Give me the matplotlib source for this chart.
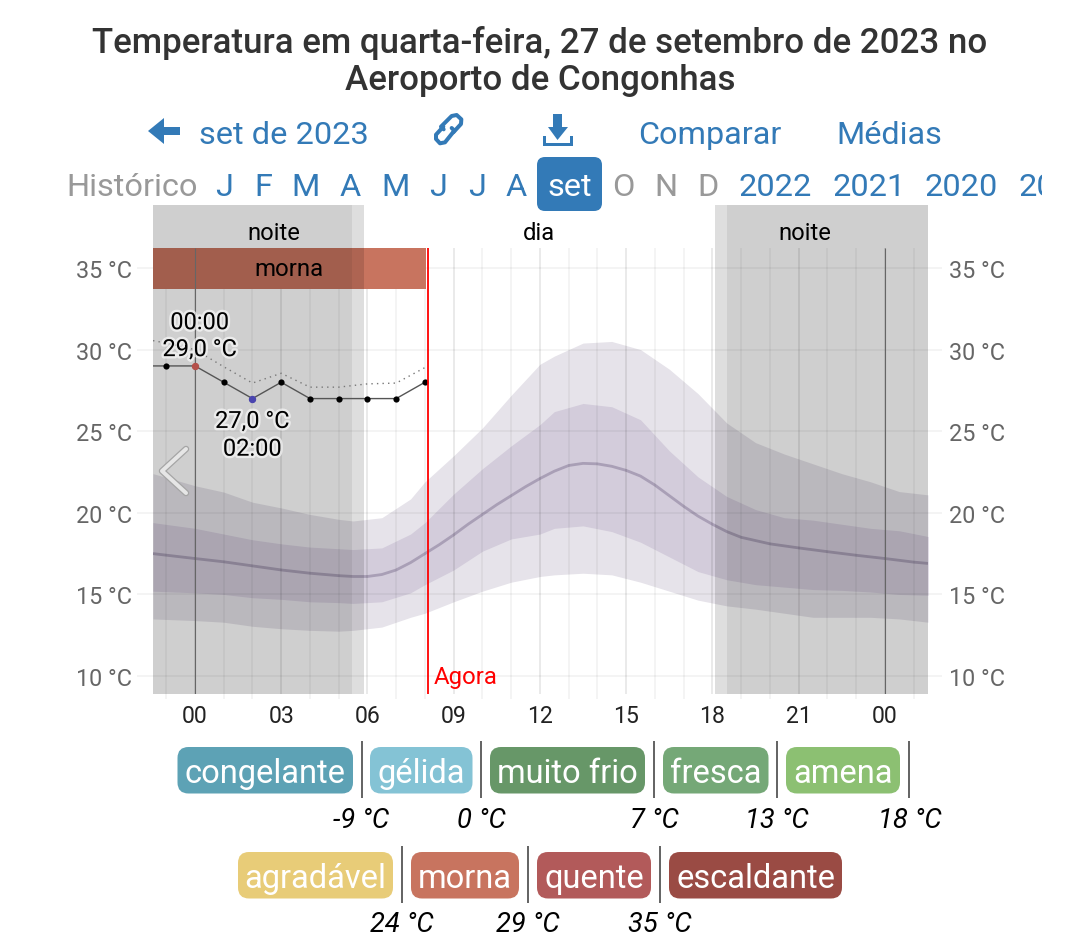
import matplotlib
matplotlib.use("Agg")
import matplotlib.pyplot as plt
import matplotlib.patheffects as pe
from matplotlib.patches import FancyBboxPatch, Polygon, Rectangle

plt.rcParams['font.family'] = ['Roboto', 'DejaVu Sans']

W, H = 1080, 953
PX = 72 / 100  # points per pixel at dpi=100

# ---- data ----
title_lines = "Temperatura em quarta-feira, 27 de setembro de 2023 no\nAeroporto de Congonhas"
band_hours = [-1.46, 0, 1, 2, 3, 4, 5, 5.5, 6.5, 7.5, 8, 9, 10, 11, 12, 12.5, 13.5, 14.5, 15.5,
              16.5, 17.5, 18.5, 19.5, 20.5, 21.5, 22.5, 23.5, 24.5, 25.5]
outer_hi = [22.4, 21.66, 21.27, 20.65, 20.3, 19.9, 19.6, 19.5, 19.7, 20.85, 21.9, 23.5, 25.2, 27.2, 29.1, 29.6,
            30.4, 30.5, 30.0, 28.8, 27.3, 25.5, 24.3, 23.6, 23.0, 22.4, 21.9, 21.3, 21.1]
inner_hi = [19.4, 19.05, 18.7, 18.35, 18.1, 17.9, 17.8, 17.75, 17.85, 18.7, 19.4, 21.15, 22.7, 24.1, 25.4, 26.2,
            26.7, 26.5, 25.7, 23.8, 22.2, 21.0, 20.2, 19.7, 19.55, 19.3, 19.05, 18.9, 18.55]
inner_lo = [15.2, 15.1, 15.0, 14.8, 14.7, 14.55, 14.5, 14.45, 14.55, 15.1, 15.6, 16.5, 17.65, 18.4, 18.7, 19.05,
            19.2, 18.85, 18.2, 17.3, 16.4, 15.9, 15.6, 15.45, 15.3, 15.25, 15.15, 15.0, 14.95]
outer_lo = [13.5, 13.4, 13.3, 13.05, 12.9, 12.8, 12.75, 12.8, 13.0, 13.6, 13.85, 14.55, 15.2, 15.75, 16.1, 16.2,
            16.3, 16.2, 15.75, 15.2, 14.65, 14.3, 14.1, 13.85, 13.6, 13.6, 13.6, 13.5, 13.3]

median_hours = [-1.46, 0, 1, 2, 3, 4, 5, 5.5, 6, 6.5, 7, 7.5, 8, 8.5, 9, 9.5, 10, 10.5, 11, 11.5, 12, 12.5, 13,
                13.5, 14, 14.5, 15, 15.5, 16, 16.5, 17, 17.5, 18, 18.5, 19, 19.5, 20, 21, 22, 23, 24, 25, 25.5]
median = [17.5, 17.2, 17.0, 16.75, 16.5, 16.3, 16.15, 16.1, 16.1, 16.22, 16.5, 16.95, 17.5, 18.05, 18.65, 19.3,
          19.9, 20.5, 21.05, 21.6, 22.1, 22.55, 22.9, 23.03, 23.0, 22.85, 22.6, 22.25, 21.7, 21.05, 20.4, 19.8,
          19.3, 18.85, 18.5, 18.3, 18.1, 17.85, 17.62, 17.4, 17.2, 16.98, 16.9]

obs_hours = [-1.46, -1, 0, 1, 2, 3, 4, 5, 6, 7, 8]
obs_temp = [29, 29, 29, 28, 27, 28, 27, 27, 27, 27, 28]
feels_temp = [30.55, 30.4, 30.0, 28.95, 27.95, 28.55, 27.7, 27.7, 27.9, 27.95, 28.9]

xtick_hours = [0, 3, 6, 9, 12, 15, 18, 21, 24]
xtick_labels = ["00", "03", "06", "09", "12", "15", "18", "21", "00"]
ytick_vals = [10, 15, 20, 25, 30, 35]
ytick_labels = ["10 °C", "15 °C", "20 °C", "25 °C", "30 °C", "35 °C"]

now_hour = 8.1
night_spans = [(-1.46, 5.46), (18.5, 25.5)]
twilight_spans = [(5.46, 5.88), (18.08, 18.5)]

legend_row1 = ["congelante", "gélida", "muito frio", "fresca", "amena"]
legend_row1_colors = ["#5da2b5", "#84c3d5", "#679768", "#75a877", "#8cc072"]
legend_row1_limits = ["-9 °C", "0 °C", "7 °C", "13 °C", "18 °C"]
legend_row2 = ["agradável", "morna", "quente", "escaldante"]
legend_row2_colors = ["#e8cc78", "#c8745f", "#b25a5a", "#9a4b44"]
legend_row2_limits = ["24 °C", "29 °C", "35 °C"]

# ---- layout ----
fig = plt.figure(figsize=(W / 100, H / 100), dpi=100, facecolor="white")
ax = fig.add_axes([153 / W, 1 - 695 / H, (928 - 153) / W, (695 - 206) / H], facecolor="none")
ax.set_xlim(-1.46, 25.5)
ax.set_ylim(8.9, 38.86)
for s in ax.spines.values():
    s.set_visible(False)

ax.set_xticks(xtick_hours, xtick_labels)
ax.set_yticks(ytick_vals, ytick_labels)
ax.tick_params(axis="x", length=0, pad=7, labelsize=23 * PX, labelcolor="#222222")
ax.tick_params(axis="y", length=0, pad=15, labelsize=23.4 * PX, labelcolor="#666666",
               left=False, right=False, labelleft=True, labelright=True)

GRID_TOP = 36.25
BAR_BOTTOM = 33.72

# bands
ax.fill_between(band_hours, outer_lo, outer_hi, color="#e6e3ea", lw=0, zorder=1)
ax.fill_between(band_hours, inner_lo, inner_hi, color="#d3ccdb", lw=0, zorder=1.1)
ax.plot(median_hours, median, color="#a99fb6", lw=2.8 * PX, zorder=1.2, solid_capstyle="butt")

# grid
ax.hlines(ytick_vals, -2.0, 26.0, color="black", alpha=0.055, lw=1.6 * PX, zorder=2, clip_on=False)
hour_grid = [h for h in range(-1, 26)]
for h in hour_grid:
    major = h % 3 == 0
    ax.vlines(h, 8.6 if not major else 8.9, GRID_TOP, color="black", alpha=0.1 if major else 0.055,
              lw=1.6 * PX, zorder=2, clip_on=False)

# midnight lines
ax.vlines([0, 24], 8.9, GRID_TOP, color="#666666", lw=1.1 * PX, zorder=5)

# night
for a, b in night_spans:
    ax.axvspan(a, b, color="black", alpha=0.19, lw=0, zorder=3)
for a, b in twilight_spans:
    ax.axvspan(a, b, color="black", alpha=0.13, lw=0, zorder=3)

# category bar
ax.barh((GRID_TOP + BAR_BOTTOM) / 2, 8.03 + 1.46, height=GRID_TOP - BAR_BOTTOM, left=-1.46, color="#c8745f", zorder=2.5)
ax.text((-1.46 + 8.03) / 2, 35.0, "morna", ha="center", va="center", fontsize=24 * PX, color="black", zorder=6)

ax.text(2.73, 37.17, "noite", ha="center", va="center", fontsize=23.7 * PX, color="black", zorder=6)
ax.text(11.96, 37.17, "dia", ha="center", va="center", fontsize=23.7 * PX, color="black", zorder=6)
ax.text(21.2, 37.17, "noite", ha="center", va="center", fontsize=23.7 * PX, color="black", zorder=6)

# observed lines
ax.plot(obs_hours, feels_temp, color="#777777", lw=1.0, ls=(0, (1, 3)), zorder=6)
ax.plot(obs_hours, obs_temp, color="#555555", lw=1.0, zorder=6)
ax.scatter(obs_hours[1:], obs_temp[1:], s=20, color="black", lw=0, zorder=7)
ax.scatter([obs_hours[2]], [obs_temp[2]], s=28, color="#b5504a", lw=0, zorder=8)
ax.scatter([obs_hours[4]], [obs_temp[4]], s=28, color="#4a45b0", lw=0, zorder=8)

halo = [pe.withStroke(linewidth=3.5, foreground="white", alpha=0.6)]
for x, y, s in [(0.17, 31.65, "00:00"), (0.17, 30.0, "29,0 °C"), (2.0, 25.6, "27,0 °C"), (2.0, 23.9, "02:00")]:
    ax.text(x, y, s, ha="center", va="center", fontsize=23.6 * PX, color="black", zorder=9, path_effects=halo)

# now
ax.vlines(now_hour, 8.9, GRID_TOP, color="#ff0000", lw=1.3, zorder=8)
ax.text(now_hour + 0.2, 10.0, "Agora", ha="left", va="center", fontsize=24 * PX, color="#ff0000", zorder=9)

# ---- pixel overlay for page furniture ----
ov = fig.add_axes([0, 0, 1, 1], facecolor="none")
ov.set_xlim(0, W)
ov.set_ylim(H, 0)
ov.axis("off")

ov.text(540, 61.5, title_lines, ha="center", va="center", fontsize=34.9 * PX, color="#333333",
        weight="medium", linespacing=1.18)

BLUE = "#337ab7"
GRAY = "#999999"
ov.text(199, 136, "set de 2023", ha="left", va="center", fontsize=32.5 * PX, color=BLUE)
ov.text(638, 136, "Comparar", ha="left", va="center", fontsize=32.4 * PX, color=BLUE)
ov.text(836, 136, "Médias", ha="left", va="center", fontsize=32.4 * PX, color=BLUE)

# back arrow
ov.add_patch(Polygon([(148, 132), (164, 119), (164, 128), (180, 128), (180, 136), (164, 136), (164, 145)],
                     closed=True, color=BLUE, lw=0))


def zoomed(points):
    return [425 + p[0] / 3 for p in points], [105 + p[1] / 3 for p in points]


# link icon
for pts in ([(56, 76), (48, 68), (80, 36), (95, 33), (109, 46), (108, 60), (85, 85)],
            [(80, 72), (88, 80), (60, 115), (45, 118), (33, 105), (33, 92), (55, 68)]):
    xs, ys = zoomed(pts)
    ov.plot(xs, ys, color=BLUE, lw=4 * PX, solid_joinstyle="round", solid_capstyle="round")
# download icon
ov.add_patch(Polygon([(553, 115), (562, 115), (562, 128), (568, 128), (557.5, 141), (548, 128), (553, 128)],
                     closed=True, color=BLUE, lw=0))
ov.add_patch(Polygon([(543, 137), (546, 137), (546, 144), (570, 144), (570, 137), (573, 137), (573, 147), (543, 147)],
                     closed=True, color=BLUE, lw=0))

# nav row
NAV_Y = 187
ov.text(66, NAV_Y, "Histórico", ha="left", va="center", fontsize=32.5 * PX, color=GRAY)
for x, s, c in [(224, "J", BLUE), (263, "F", BLUE), (306, "M", BLUE), (350, "A", BLUE), (396, "M", BLUE),
                (438, "J", BLUE), (477, "J", BLUE), (516, "A", BLUE),
                (623, "O", GRAY), (666, "N", GRAY), (708, "D", GRAY)]:
    ov.text(x, NAV_Y, s, ha="center", va="center", fontsize=32.5 * PX, color=c)
ov.add_patch(FancyBboxPatch((537 + 8, 158 + 8), 65 - 16, 54 - 16, boxstyle="round,pad=8,rounding_size=8",
                            fc=BLUE, ec="none", zorder=1))
ov.text(570, NAV_Y, "set", ha="center", va="center", fontsize=32.5 * PX, color="white", zorder=2)
clip = Rectangle((0, 0), 1042, H, transform=ov.transData)
for x, s in [(739, "2022"), (833, "2021"), (925, "2020"), (1018, "2019")]:
    t = ov.text(x, NAV_Y, s, ha="left", va="center", fontsize=32.5 * PX, color=BLUE, clip_on=True)
    t.set_clip_path(clip)

# chevron
chev_x, chev_y = [186, 162, 186], [450, 472, 494]
ov.plot(chev_x, chev_y, color="#a5a5a5", lw=6.5 * PX, solid_capstyle="round", solid_joinstyle="round", zorder=10)
ov.plot(chev_x, chev_y, color="#e6e6e6", lw=4.0 * PX, solid_capstyle="round", solid_joinstyle="round", zorder=11)


def box(x0, x1, y0, y1, color, label):
    r = 11
    ov.add_patch(FancyBboxPatch((x0 + r, y0 + r), x1 - x0 - 2 * r, y1 - y0 - 2 * r,
                                boxstyle=f"round,pad={r},rounding_size={r}", fc=color, ec="none"))
    ov.text((x0 + x1) / 2, (y0 + y1) / 2 + 3, label, ha="center", va="center", fontsize=32.6 * PX, color="white")


row1_boxes = [(177.5, 353), (370, 472.5), (490, 645), (663, 768.5), (786, 900)]
row1_seps = [361.5, 481, 654, 777, 909]
row1_label_x = [361.5, 481.5, 654, 777, 909.5]
for (a, b), c, s in zip(row1_boxes, legend_row1_colors, legend_row1):
    box(a, b, 748, 794.5, c, s)
for x in row1_seps:
    ov.plot([x, x], [743, 798], color="#666666", lw=2 * PX)
for x, s in zip(row1_label_x, legend_row1_limits):
    ov.text(x, 821, s, ha="center", va="center", fontsize=27.4 * PX, style="italic", color="black")

row2_boxes = [(238, 393), (411, 519), (537, 651), (669, 842)]
row2_seps = [402, 528, 660]
row2_label_x = [402, 528, 660]
for (a, b), c, s in zip(row2_boxes, legend_row2_colors, legend_row2):
    box(a, b, 853, 899.5, c, s)
for x in row2_seps:
    ov.plot([x, x], [848, 903], color="#666666", lw=2 * PX)
for x, s in zip(row2_label_x, legend_row2_limits):
    ov.text(x, 925, s, ha="center", va="center", fontsize=27.4 * PX, style="italic", color="black")

fig.savefig("out.png", dpi=100, facecolor="white")
